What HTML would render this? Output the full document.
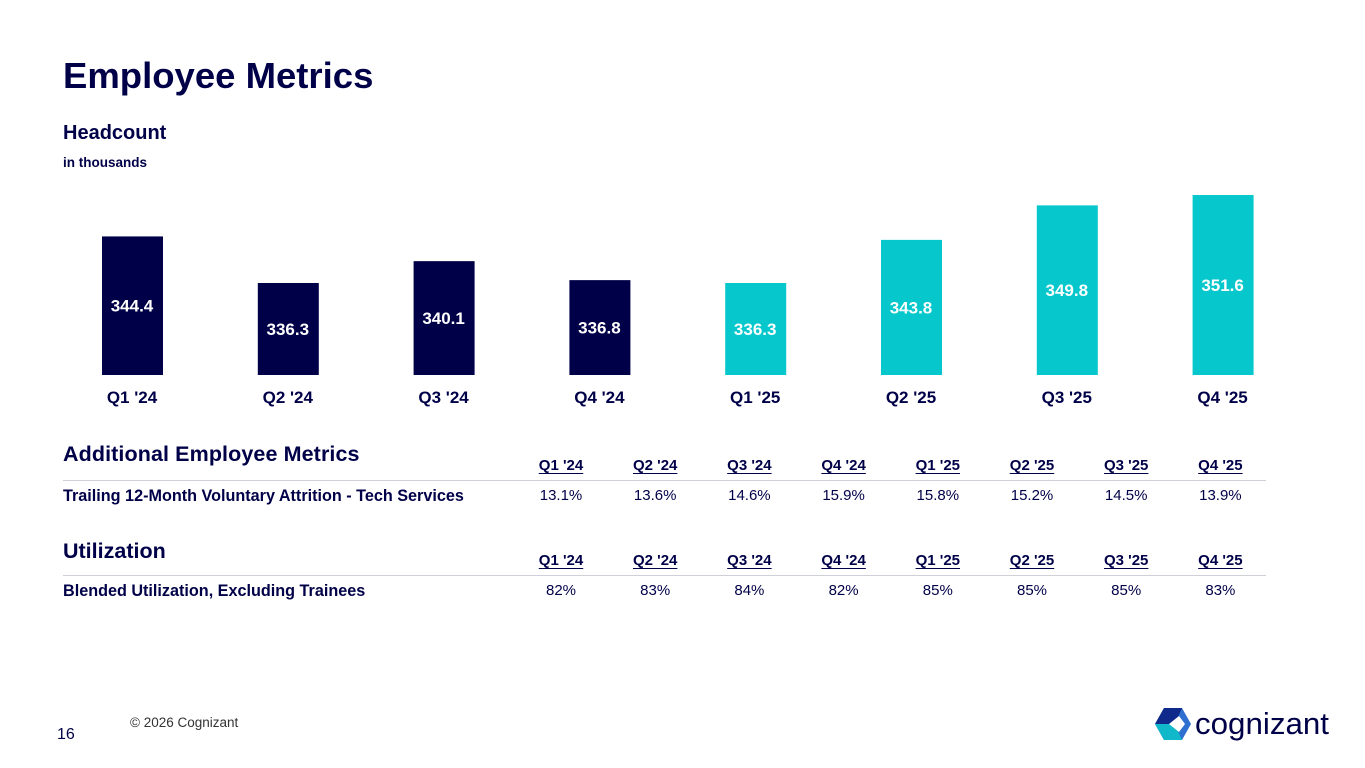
<!DOCTYPE html>
<html><head><meta charset="utf-8"><style>
*{margin:0;padding:0;box-sizing:border-box}
body{width:1365px;height:768px;background:#fff;font-family:"Liberation Sans",sans-serif;color:#000048;position:relative;overflow:hidden}
.abs{position:absolute}
.t{position:absolute;white-space:nowrap}
.ch{font-weight:bold;font-size:15px;text-decoration:underline;text-underline-offset:3px;transform:translateX(-50%)}
.v{font-size:15px;transform:translateX(-50%)}
</style></head><body>
<div class="t" style="left:63px;top:55px;font-size:36.5px;font-weight:bold">Employee Metrics</div>
<div class="t" style="left:63px;top:122px;font-size:20px;font-weight:bold">Headcount</div>
<div class="t" style="left:63px;top:155px;font-size:13.5px;font-weight:bold">in thousands</div>
<svg class="abs" id="chart" style="left:0;top:0" width="1365" height="420"></svg>

<div class="t" style="left:63px;top:442px;font-size:21.5px;font-weight:bold;letter-spacing:0.1px">Additional Employee Metrics</div>
<div id="h1"></div>
<div class="abs" style="left:63px;top:480px;width:1203px;height:1px;background:#d0d0d8"></div>
<div class="t" style="left:63px;top:487px;font-size:16.2px;font-weight:bold">Trailing 12-Month Voluntary Attrition - Tech Services</div>
<div id="r1"></div>

<div class="t" style="left:63px;top:539px;font-size:21.5px;font-weight:bold">Utilization</div>
<div id="h2"></div>
<div class="abs" style="left:63px;top:575px;width:1203px;height:1px;background:#d0d0d8"></div>
<div class="t" style="left:63px;top:582px;font-size:16.2px;font-weight:bold">Blended Utilization, Excluding Trainees</div>
<div id="r2"></div>

<div class="t" style="left:57px;top:726px;font-size:16px">16</div>
<div class="t" style="left:130px;top:715px;font-size:13.5px;color:#333">© 2026 Cognizant</div>
<svg class="abs" style="left:1155px;top:706px" width="180" height="36" viewBox="0 0 180 36">
<polygon points="9,2 27,2 36,18 27,34 9,34 0,18" fill="#2f6fd0"/>
<polygon points="9,2 27,2 20,18 0,18" fill="#0f2a8a"/>
<polygon points="0,18 20,18 27,34 9,34" fill="#11b8c9"/>
<polygon points="14,18 24,10 30,18 24,26" fill="#fff"/>
<text x="40" y="28" font-family="Liberation Sans,sans-serif" font-size="31" fill="#000048" textLength="134" lengthAdjust="spacingAndGlyphs">cognizant</text>
</svg>
<script>
const quarters=["Q1 '24","Q2 '24","Q3 '24","Q4 '24","Q1 '25","Q2 '25","Q3 '25","Q4 '25"];
const headcount=[344.4,336.3,340.1,336.8,336.3,343.8,349.8,351.6];
const attrition=["13.1%","13.6%","14.6%","15.9%","15.8%","15.2%","14.5%","13.9%"];
const utilization=["82%","83%","84%","82%","85%","85%","85%","83%"];
const svg=document.getElementById('chart');const NS="http://www.w3.org/2000/svg";
const base=375,vmin=320.3,k=5.75;
function y(v){return base-(v-vmin)*k;}
function x(i){return 132+i*155.8;}
headcount.forEach((v,i)=>{
 const r=document.createElementNS(NS,'rect');
 r.setAttribute('x',x(i)-30);r.setAttribute('width',61);r.setAttribute('y',y(v));r.setAttribute('height',base-y(v));
 r.setAttribute('fill',i<4?'#000048':'#06C7CC');
 
 
 svg.appendChild(r);
 const t=document.createElementNS(NS,'text');
 t.setAttribute('x',x(i));t.setAttribute('y',(y(v)+base)/2+6);t.setAttribute('text-anchor','middle');
 t.setAttribute('fill','#fff');t.setAttribute('font-size','17');t.setAttribute('font-weight','bold');
 
 
 t.textContent=v.toFixed(1);svg.appendChild(t);
 const q=document.createElementNS(NS,'text');
 q.setAttribute('x',x(i));q.setAttribute('y',403);q.setAttribute('text-anchor','middle');
 q.setAttribute('fill','#000048');q.setAttribute('font-size','17');q.setAttribute('font-weight','bold');
 
 
 q.textContent=quarters[i];svg.appendChild(q);
});
function cx(i){return 561+i*94.2;}
function row(id,arr,top,cls,name){
 const c=document.getElementById(id);
 arr.forEach((s,i)=>{const d=document.createElement('div');d.className='t '+cls;d.style.left=cx(i)+'px';d.style.top=top+'px';d.textContent=s;
 
 
 c.appendChild(d);});
}
row('h1',quarters,457,'ch','column-header');
row('r1',attrition,487,'v','attrition-value');
row('h2',quarters,552,'ch','column-header');
row('r2',utilization,582,'v','utilization-value');
</script>
</body></html>
